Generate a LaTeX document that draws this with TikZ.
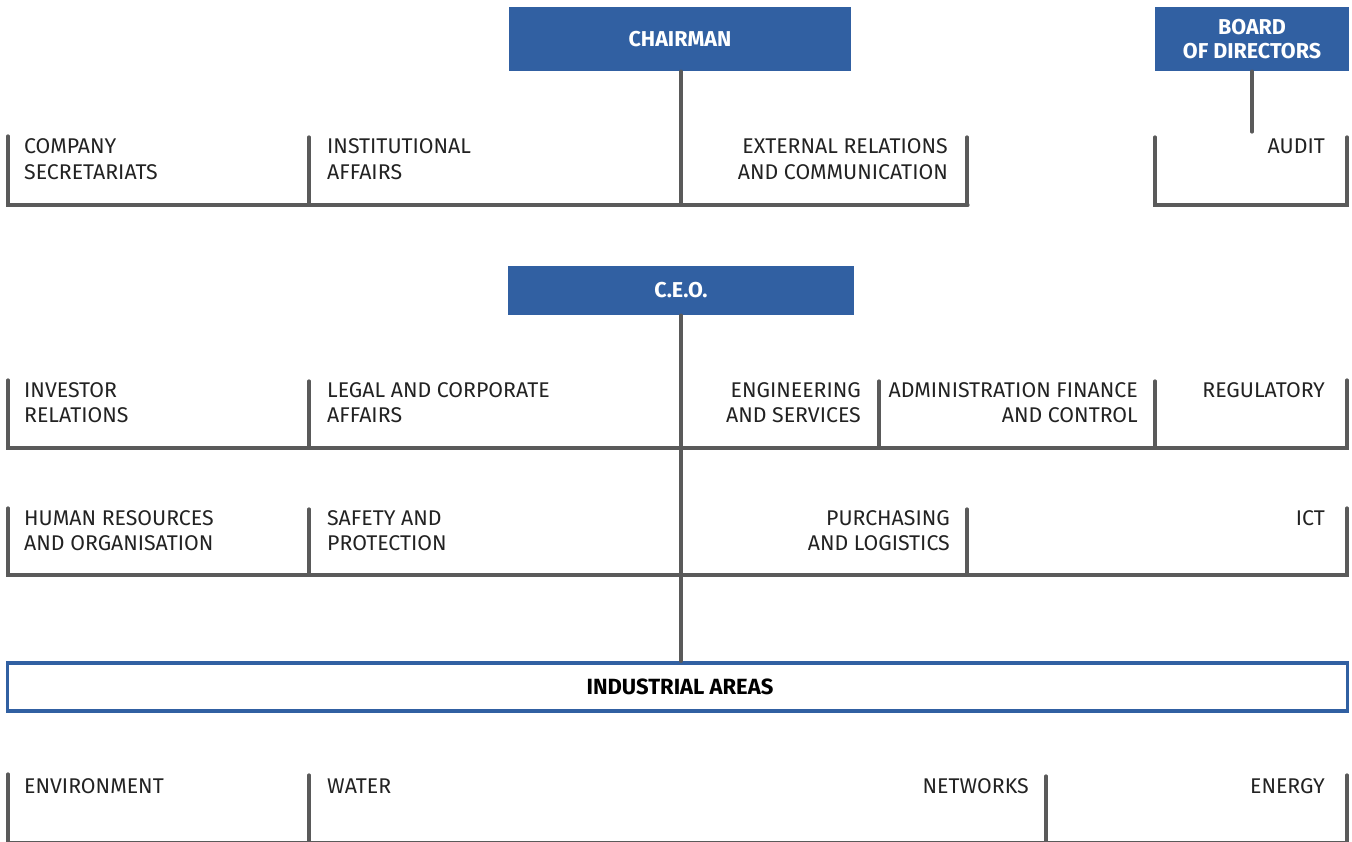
\documentclass[tikz,border=0pt]{standalone}
\usepackage{fontspec}
\setmainfont{Fira Sans}
\definecolor{boxblue}{HTML}{3160A2}
\definecolor{linegray}{HTML}{5A5A5A}
\definecolor{txtc}{HTML}{222222}
\begin{document}
\begin{tikzpicture}[x=1pt,y=-1pt,
  conn/.style={draw=linegray,line width=3.2pt,line cap=round},
  head/.style={fill=boxblue,text=white,font=\fontsize{21.5}{24}\selectfont\bfseries,align=center,inner sep=0pt},
  unitl/.style={anchor=base west,align=left,font=\fontsize{21.3}{25.5}\selectfont,text=txtc,inner sep=0pt},
  unitr/.style={anchor=base east,align=right,font=\fontsize{21.3}{25.5}\selectfont,text=txtc,inner sep=0pt}]
\useasboundingbox (0,0) rectangle (1352,842);

% head boxes
\node[head,minimum width=342pt,minimum height=64pt] (chairman) at (680,39) {CHAIRMAN};
\node[head,minimum width=194pt,minimum height=64pt] (board) at (1252,39) {BOARD\\OF DIRECTORS};
\node[head,minimum width=346pt,minimum height=49pt] (ceo) at (681,290.5) {C.E.O.};
\node[draw=boxblue,line width=3.5pt,minimum width=1340pt,minimum height=48pt,inner sep=0pt] (ind) at (677.5,687) {};
\node[font=\fontsize{22}{24}\selectfont\bfseries,text=black,inner sep=0pt] (indt) at (680,687) {INDUSTRIAL AREAS};

% row 1 (multi-line nodes: base = last line)
\coordinate (r1m) at (681,205);
\coordinate (audtop) at (1252,132);
\draw[conn] (8,136) -- (8,205) -- (968,205);
\draw[conn] (309,137) -- (309,205);
\draw[conn] (967,137) -- (967,205);
\draw[conn] (1155,137) -- (1155,205) -- (1347,205) -- (1347,137);
\draw[conn] (chairman.south -| r1m) -- (r1m);
\draw[conn] (board.south) -- (audtop);
\node[unitl] (cs) at (24,179.5) {COMPANY\\SECRETARIATS};
\node[unitl] (ia) at (327,179.5) {INSTITUTIONAL\\AFFAIRS};
\node[unitr] (er) at (948,179.5) {EXTERNAL RELATIONS\\AND COMMUNICATION};
\node[unitr] (au) at (1325,154) {AUDIT};

% row 2
\draw[conn] (8,380) -- (8,448) -- (1347,448) -- (1347,380);
\draw[conn] (309,381) -- (309,448);
\draw[conn] (879,381) -- (879,448);
\draw[conn] (1155,381) -- (1155,448);
\node[unitl] (ir) at (24,422.5) {INVESTOR\\RELATIONS};
\node[unitl] (lc) at (327,422.5) {LEGAL AND CORPORATE\\AFFAIRS};
\node[unitr] (es) at (861,422.5) {ENGINEERING\\AND SERVICES};
\node[unitr] (af) at (1138,422.5) {ADMINISTRATION FINANCE\\AND CONTROL};
\node[unitr] (rg) at (1325,397) {REGULATORY};

% row 3
\draw[conn] (8,508) -- (8,575) -- (1347,575) -- (1347,508);
\draw[conn] (309,509) -- (309,575);
\draw[conn] (967,509) -- (967,575);
\node[unitl] (hr) at (24,550.5) {HUMAN RESOURCES\\AND ORGANISATION};
\node[unitl] (sp) at (327,550.5) {SAFETY AND\\PROTECTION};
\node[unitr] (pl) at (950,550.5) {PURCHASING\\AND LOGISTICS};
\node[unitr] (ict) at (1325,525) {ICT};

% ceo spine
\draw[conn] (ceo.south -| r1m) -- (ind.north -| r1m);

% row 4
\draw[conn] (8,774) -- (8,843) -- (1347,843) -- (1347,775);
\draw[conn] (309,775) -- (309,843);
\draw[conn] (1046,776) -- (1046,843);
\node[unitl] (env) at (24,793) {ENVIRONMENT};
\node[unitl] (wat) at (327,793) {WATER};
\node[unitr] (net) at (1029,793) {NETWORKS};
\node[unitr] (en) at (1325,793) {ENERGY};
\end{tikzpicture}
\end{document}
